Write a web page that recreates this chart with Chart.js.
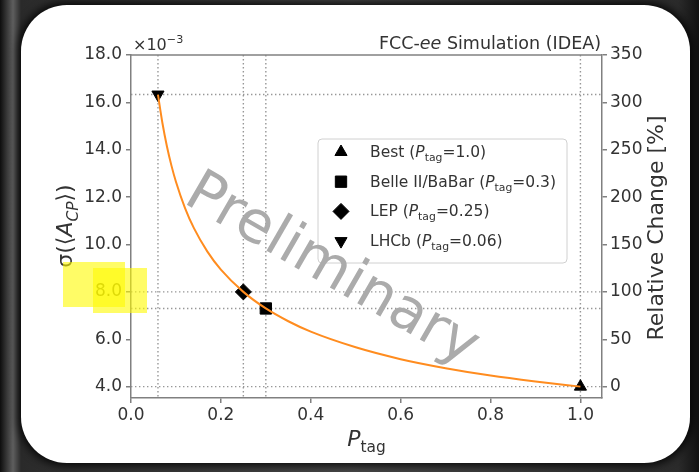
<!DOCTYPE html>
<html>
<head>
<meta charset="utf-8">
<script src="https://cdn.jsdelivr.net/npm/chart.js@4.4.1/dist/chart.umd.min.js"></script>
<style>
  body { margin: 0; background: #333; }
  #wrap { position: relative; width: 699px; height: 472px; overflow: hidden;
          background: linear-gradient(90deg, #0d0d0d 0px, #5e5e5e 13px, #2a2a2a 21px, #4a4a4a 50%, #2b2b2b 97%, #111 100%); }
  #card { position: absolute; left: 21px; top: 5px; width: 669px; height: 458px; background: #fff;
          border-radius: 46px; box-shadow: 0 0 9px 3px rgba(0,0,0,0.85); }
  canvas { position: absolute; left: 0; top: 0; }
</style>
</head>
<body>
<div id="wrap"><div id="card"></div><canvas id="c" width="699" height="472"></canvas></div>
<script>
// reference experiments
var pointNames = ['Best', 'Belle II/BaBar', 'LEP', 'LHCb'];
var pointTag = [1.0, 0.3, 0.25, 0.06];
var pointTagText = ['1.0', '0.3', '0.25', '0.06'];
var pointSigma = [4.0, 7.30, 8.0, 16.33];

// orange curve
var curveTag = [0.06, 0.07, 0.08, 0.09, 0.1, 0.12, 0.14, 0.17, 0.2, 0.25, 0.3, 0.35, 0.4, 0.5, 0.6, 0.7, 0.8, 0.9, 1.0];
var curveSigma = [16.33, 15.12, 14.14, 13.33, 12.65, 11.55, 10.69, 9.70, 8.94, 8.00, 7.30, 6.76, 6.32, 5.66, 5.16, 4.78, 4.47, 4.22, 4.00];

var xTicks = [0.0, 0.2, 0.4, 0.6, 0.8, 1.0];
var sigmaTicks = [4, 6, 8, 10, 12, 14, 16, 18];
var relTicks = [0, 50, 100, 150, 200, 250, 300, 350];

var xMin = 0, xMax = 1.048, sigmaMin = 3.52, sigmaMax = 18;

function rel(s) { return (s / pointSigma[0] - 1) * 100; }

var markers = [
    { pointStyle: 'triangle', rotation: 0, radius: 7 },
    { pointStyle: 'rect', rotation: 0, radius: 8 },
    { pointStyle: 'rectRot', rotation: 0, radius: 8 },
    { pointStyle: 'triangle', rotation: 180, radius: 7 }
];

var FONT = '"DejaVu Sans"';
var TXT = '#333';
var SPINE = '#808080';

Chart.defaults.font.family = FONT;

function fontOf(p, size) {
    var s = (p.sub || p.sup) ? size * 0.7 : size;
    return (p.italic ? 'italic ' : '') + s + 'px ' + FONT;
}

// draws mixed runs (italic / sub / sup) on one baseline
function richText(ctx, parts, x, y, align, size) {
    var w = 0;
    parts.forEach(function (p) {
        ctx.font = fontOf(p, size);
        p.w = ctx.measureText(p.t).width;
        w += p.w;
    });
    var cx = align === 'right' ? x - w : (align === 'center' ? x - w / 2 : x);
    ctx.textAlign = 'left';
    ctx.textBaseline = 'alphabetic';
    parts.forEach(function (p) {
        ctx.font = fontOf(p, size);
        var dy = p.sub ? size * 0.25 : (p.sup ? -size * 0.42 : 0);
        ctx.fillText(p.t, cx, y + dy);
        cx += p.w;
    });
}

var refLines = {
    id: 'refLines',
    beforeDatasetsDraw: function (chart) {
        var ctx = chart.ctx, a = chart.chartArea, xs = chart.scales.x, ys = chart.scales.y;
        ctx.save();
        ctx.strokeStyle = 'rgba(140,140,140,0.9)';
        ctx.lineWidth = 1.4;
        ctx.setLineDash([1.4, 2.6]);
        pointTag.forEach(function (t, i) {
            var px = xs.getPixelForValue(t), py = ys.getPixelForValue(pointSigma[i]);
            ctx.beginPath();
            ctx.moveTo(px, a.top); ctx.lineTo(px, a.bottom);
            ctx.moveTo(a.left, py); ctx.lineTo(a.right, py);
            ctx.stroke();
        });
        ctx.restore();
    }
};

var decorations = {
    id: 'decorations',
    afterDraw: function (chart) {
        var ctx = chart.ctx, a = chart.chartArea;
        ctx.save();

        // top spine
        ctx.strokeStyle = SPINE;
        ctx.lineWidth = 1.5;
        ctx.beginPath();
        ctx.moveTo(a.left, a.top); ctx.lineTo(a.right, a.top);
        ctx.stroke();

        ctx.fillStyle = TXT;
        // title + offset text
        richText(ctx, [{ t: 'FCC-' }, { t: 'ee', italic: true }, { t: ' Simulation (IDEA)' }], a.right - 1, 48.5, 'right', 17.5);
        richText(ctx, [{ t: '\u00d710' }, { t: '\u22123', sup: true }], a.left + 2, 49.5, 'left', 16);

        // axis titles
        richText(ctx, [{ t: 'P', italic: true }, { t: 'tag', sub: true }], (a.left + a.right) / 2, 446, 'center', 22);

        ctx.save();
        ctx.translate(72, 226);
        ctx.rotate(-Math.PI / 2);
        richText(ctx, [{ t: '\u03c3(\u27e8' }, { t: 'A', italic: true }, { t: 'CP', italic: true, sub: true }, { t: '\u27e9)' }], 0, 0, 'center', 22);
        ctx.restore();

        ctx.save();
        ctx.translate(663, 228);
        ctx.rotate(-Math.PI / 2);
        richText(ctx, [{ t: 'Relative Change [%]' }], 0, 0, 'center', 22);
        ctx.restore();

        // legend
        var lx = 318, ly = 139, lw = 249, lh = 124;
        ctx.beginPath();
        ctx.roundRect(lx, ly, lw, lh, 4);
        ctx.fillStyle = 'rgba(255,255,255,0.85)';
        ctx.fill();
        ctx.strokeStyle = '#d0d0d0';
        ctx.lineWidth = 1;
        ctx.stroke();
        pointNames.forEach(function (n, i) {
            var base = 157 + i * 29.7;
            ctx.fillStyle = '#000';
            ctx.strokeStyle = '#000';
            Chart.helpers.drawPoint(ctx, {
                pointStyle: markers[i].pointStyle, rotation: markers[i].rotation,
                radius: markers[i].radius, borderWidth: 1
            }, 341, base - 5);
            ctx.fillStyle = TXT;
            richText(ctx, [{ t: n + ' (' }, { t: 'P', italic: true }, { t: 'tag', sub: true },
                { t: '=' + pointTagText[i] + ')' }], 370, base, 'left', 15.5);
        });

        // watermark
        ctx.save();
        ctx.translate(182, 202);
        ctx.rotate(30 * Math.PI / 180);
        ctx.font = '58px ' + FONT;
        ctx.fillStyle = '#ababab';
        ctx.textAlign = 'left';
        ctx.textBaseline = 'alphabetic';
        ctx.fillText('Preliminary', 0, 0);
        ctx.restore();

        // highlighter marks over the 8.0 label
        ctx.fillStyle = 'rgba(255,250,0,0.6)';
        ctx.fillRect(63, 262, 62, 45);
        ctx.fillRect(93, 268, 54, 45);

        ctx.restore();
    }
};

var datasets = [{
    data: curveTag.map(function (t, i) { return { x: t, y: curveSigma[i] }; }),
    showLine: true,
    borderColor: '#ff8c1f',
    borderWidth: 2,
    pointRadius: 0,
    cubicInterpolationMode: 'monotone',
    yAxisID: 'y'
}];
pointNames.forEach(function (n, i) {
    datasets.push({
        label: n,
        data: [{ x: pointTag[i], y: pointSigma[i] }],
        pointStyle: markers[i].pointStyle,
        rotation: markers[i].rotation,
        pointRadius: markers[i].radius,
        backgroundColor: '#000',
        borderColor: '#000',
        borderWidth: 1,
        yAxisID: 'y'
    });
});

function axisGrid() {
    return { drawOnChartArea: false, drawTicks: true, tickLength: 5, color: SPINE, lineWidth: 1.5 };
}

new Chart(document.getElementById('c'), {
    type: 'scatter',
    data: { datasets: datasets },
    options: {
        responsive: false,
        animation: false,
        devicePixelRatio: 1,
        layout: { padding: { top: 55, left: 0, right: 0, bottom: 0 } },
        plugins: { legend: { display: false }, tooltip: { enabled: false } },
        scales: {
            x: {
                type: 'linear', min: xMin, max: xMax,
                afterBuildTicks: function (s) { s.ticks = xTicks.map(function (v) { return { value: v }; }); },
                afterFit: function (s) { s.height = 74; },
                ticks: { autoSkip: false, maxRotation: 0, font: { size: 17 }, color: TXT, padding: 2,
                    callback: function (v) { return v.toFixed(1); } },
                grid: axisGrid(),
                border: { color: SPINE, width: 1.5 }
            },
            y: {
                type: 'linear', position: 'left', min: sigmaMin, max: sigmaMax,
                afterBuildTicks: function (s) { s.ticks = sigmaTicks.map(function (v) { return { value: v }; }); },
                afterFit: function (s) { s.width = 131; },
                ticks: { autoSkip: false, font: { size: 17 }, color: TXT, padding: 4,
                    callback: function (v) { return v.toFixed(1); } },
                grid: axisGrid(),
                border: { color: SPINE, width: 1.5 }
            },
            y2: {
                type: 'linear', position: 'right', min: rel(sigmaMin), max: rel(sigmaMax),
                afterBuildTicks: function (s) { s.ticks = relTicks.map(function (v) { return { value: v }; }); },
                afterFit: function (s) { s.width = 97; },
                ticks: { autoSkip: false, font: { size: 17 }, color: TXT, padding: 3,
                    callback: function (v) { return String(v); } },
                grid: axisGrid(),
                border: { color: SPINE, width: 1.5 }
            }
        }
    },
    plugins: [refLines, decorations]
});
</script>
</body>
</html>
